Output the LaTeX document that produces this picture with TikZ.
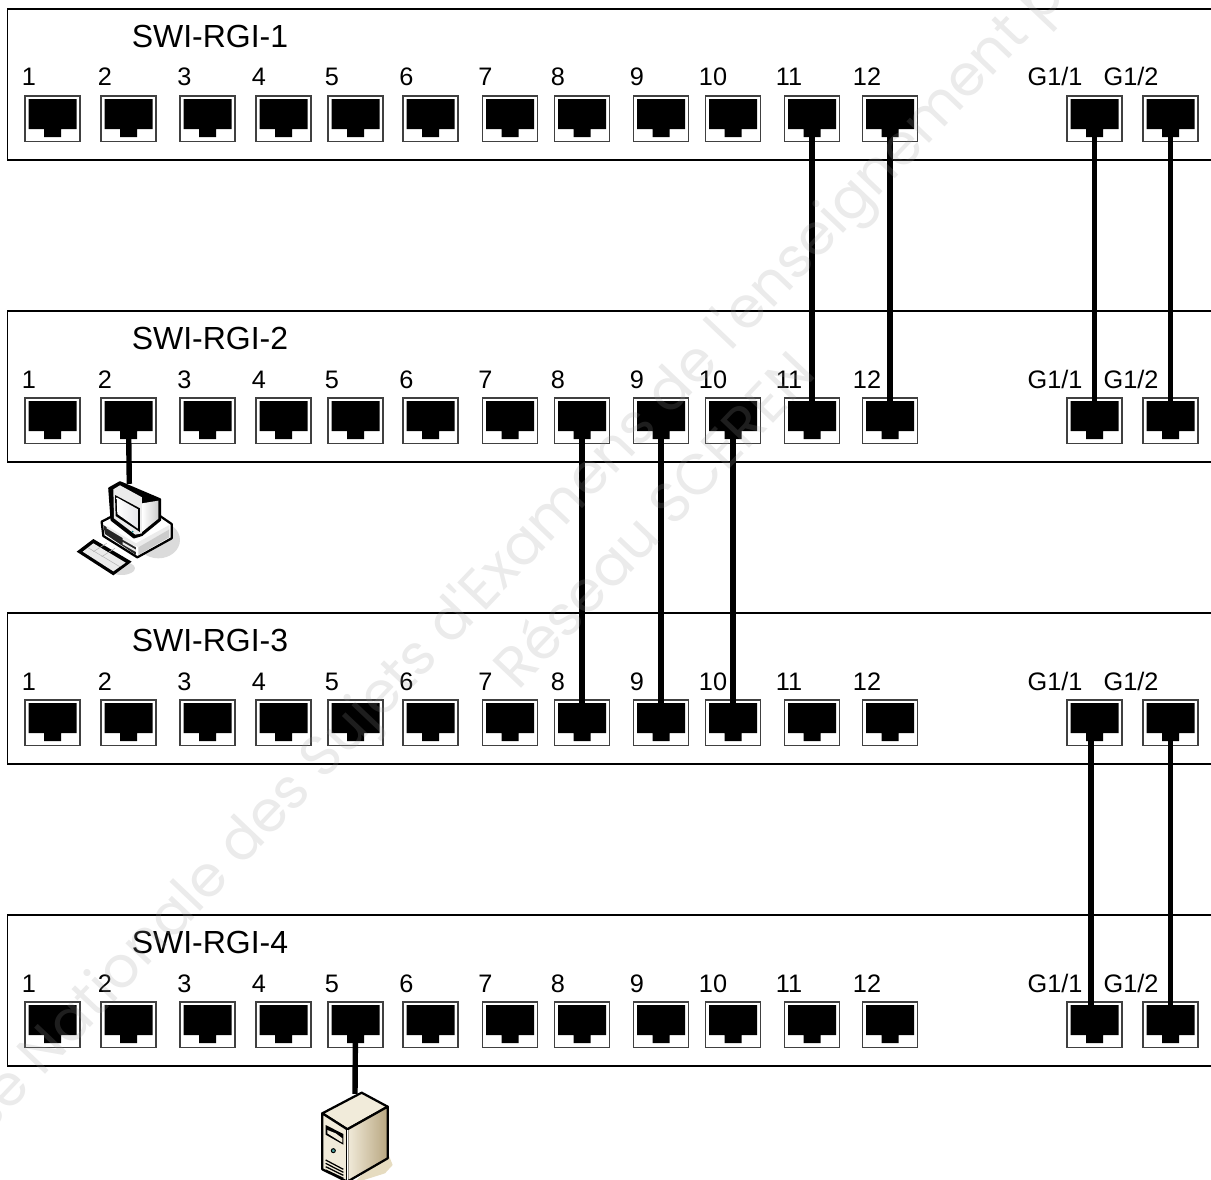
\documentclass[tikz,border=0pt]{standalone}
\usepackage{fontspec}
\setmainfont{Liberation Sans}
\newfontfamily\markfont{Poppins}
\definecolor{srvlight}{HTML}{F1EBDA}
\definecolor{srvdark}{HTML}{B8A680}
\definecolor{srvshadow}{HTML}{E6DCC0}
\tikzset{
  swframe/.style={line width=0.04cm},
  portbox/.style={draw=black!75, fill=white, line width=0.024cm, inner sep=0pt, minimum width=1.1cm, minimum height=0.91cm,
    path picture={\fill[black] (-24,-19.75) -- (24,-19.75) -- (24,10.25) -- (8.5,10.25) -- (8.5,18.25) -- (-8.5,18.25) -- (-8.5,10.25) -- (-24,10.25) -- cycle;}},
  portnum/.style={anchor=base, font=\fontsize{14.4pt}{16pt}\selectfont, inner sep=0pt},
  swname/.style={anchor=base, font=\fontsize{18.2pt}{20pt}\selectfont, inner sep=0pt},
  wire/.style={line width=0.108cm},
  icon/.style={draw=black, line width=0.045cm, line join=round},
  wmark/.style={text=black!40, text opacity=0.2, font=\markfont\fontsize{32.4pt}{36pt}\selectfont, rotate=46.5, anchor=base west, inner sep=0pt}
}
\begin{document}
\begin{tikzpicture}[x=0.02cm, y=-0.02cm]
            \useasboundingbox (0,0) rectangle (1211,1180);
            % switches
            \foreach \s/\y/\d in {1/0/-1,2/302/0,3/604/0,4/906/0} {
                \draw[swframe] (1211,9+\y) -- (7.5,9+\y) -- (7.5,160+\y) -- (1211,160+\y);
                \node[swname] (name\s) at (210,47+\y) {SWI-RGI-\s};
                \foreach \n/\x/\lx/\t in {1/52.5/29/1,2/128.5/105/2,3/207.5/184.5/3,4/283.5/259/4,5/355.5/332/5,6/430.5/406.5/6,7/510/485.5/7,8/582/558/8,9/661/637/9,10/733/713/10,11/812/789/11,12/890/867/12,13/1094.5/1055/{G1/1},14/1170.5/1131/{G1/2}} {
                    \node[portbox] (p\s-\n) at (\x,118.75+\y) {};
                    \node[portnum] (n\s-\n) at (\lx,86.3+\y+\d) {\t};
                }
            }
            % computer
            \begin{scope}[shift={(60,440)}, x=0.00667cm, y=-0.00667cm]
                \fill[black!14] (295,300) ellipse (65 and 55);
                \fill[black!14] (185,385) ellipse (40 and 20);
                \draw[icon, fill=white] (125,245) -- (150,232) -- (300,228) -- (335,252) -- (335,295) -- (232,352) -- (130,288) -- cycle;
                \fill[black!85] (130,255) -- (228,318) -- (228,345) -- (135,282) -- cycle;
                \fill[black!8] (140,258) -- (228,310) -- (328,255) -- (328,268) -- (235,322) -- (140,265) -- cycle;
                \fill[black!20] (235,322) -- (328,268) -- (328,292) -- (235,345) -- cycle;
                \fill[black!8] (188,292) -- (228,315) -- (228,322) -- (188,299) -- cycle;
                \fill[black!8] (188,306) -- (228,329) -- (228,336) -- (188,313) -- cycle;
                \node[inner sep=0pt] (pctop) at (208,135) {};
                \draw[icon, fill=black] (148,145) -- (180,127) -- (300,178) -- (300,240) -- (245,285) -- (222,292) -- (155,240) -- cycle;
                \shade[left color=white, right color=black!20] (246,190) -- (295,182) -- (295,236) -- (246,276) -- cycle;
                \fill[black!8] (160,148) -- (180,136) -- (246,172) -- (246,280) -- (226,284) -- (162,235) -- cycle;
                \fill[black] (165,165) -- (240,205) -- (240,276) -- (167,228) -- cycle;
                \shade[left color=white, right color=blue!15!black!10] (170,172) -- (234,208) -- (234,266) -- (172,222) -- cycle;
                \fill[teal] (218,275) circle (3);
                \fill[black] (50,335) -- (100,297) -- (215,365) -- (160,406) -- cycle;
                \fill[black!8] (68,335) -- (100,310) -- (197,368) -- (160,394) -- cycle;
                \draw[black!30, line width=0.01cm] (84,323) -- (181,381);
                \draw[black!30, line width=0.01cm] (100,335) -- (140,310);
                \draw[black!30, line width=0.01cm] (125,350) -- (165,325);
            \end{scope}
            % server
            \begin{scope}
                \clip (0,0) rectangle (1211,1180);
                \begin{scope}[shift={(290,1050)}, x=0.00667cm, y=-0.00667cm]
                    \fill[srvshadow] (290,300) -- (308,345) -- (285,370) -- (190,400) -- cycle;
                    \node[inner sep=0pt] (srvtop) at (195,135) {};
                    \draw[icon, fill=srvlight] (97,190) -- (215,128) -- (293,170) -- (172,238) -- cycle;
                    \draw[icon, fill=srvlight] (97,190) -- (172,238) -- (172,395) -- (97,358) -- cycle;
                    \shade[icon, left color=srvlight, right color=srvdark] (172,238) -- (293,170) -- (293,325) -- (172,395) -- cycle;
                    \draw[white, line width=0.02cm] (172,240) -- (172,393);
                    \fill (107,225) -- (160,252) -- (160,284) -- (107,254) -- cycle;
                    \fill[srvlight] (112,240) -- (137,250) -- (157,265) -- (157,278) -- (112,250) -- cycle;
                    \draw[fill=teal!70!white, line width=0.02cm] (130,302) circle (6);
                    \draw[line width=0.025cm] (107,330) -- (160,358);
                    \draw[line width=0.025cm] (107,340) -- (160,367);
                    \draw[line width=0.025cm] (107,350) -- (160,376);
                    \draw[line width=0.025cm] (107,360) -- (160,385);
                \end{scope}
            \end{scope}
            % cables
            \draw[wire] (p1-11.center) -- (p2-11.center);
            \draw[wire] (p1-12.center) -- (p2-12.center);
            \draw[wire] (p1-13.center) -- (p2-13.center);
            \draw[wire] (p1-14.center) -- (p2-14.center);
            \draw[wire] (p2-8.center) -- (p3-8.center);
            \draw[wire] (p2-9.center) -- (p3-9.center);
            \draw[wire] (p2-10.center) -- (p3-10.center);
            \draw[wire] ([xshift=-0.07cm]p3-13.center) -- ([xshift=-0.07cm]p4-13.center);
            \draw[wire] (p3-14.center) -- (p4-14.center);
            \draw[wire] (p2-2.center) -- (pctop);
            \draw[wire] (p4-5.center) -- (srvtop);
            % background text
            \begin{scope}
                \clip (0,0) rectangle (1211,1180);
                \node[wmark] (base) at (-63,1189) {Base Nationale des Sujets d'Examens de l'enseignement professionnel};
                \node[wmark] (sceren) at (518,692) {Réseau SCEREN};
            \end{scope}
        \end{tikzpicture}
\end{document}
